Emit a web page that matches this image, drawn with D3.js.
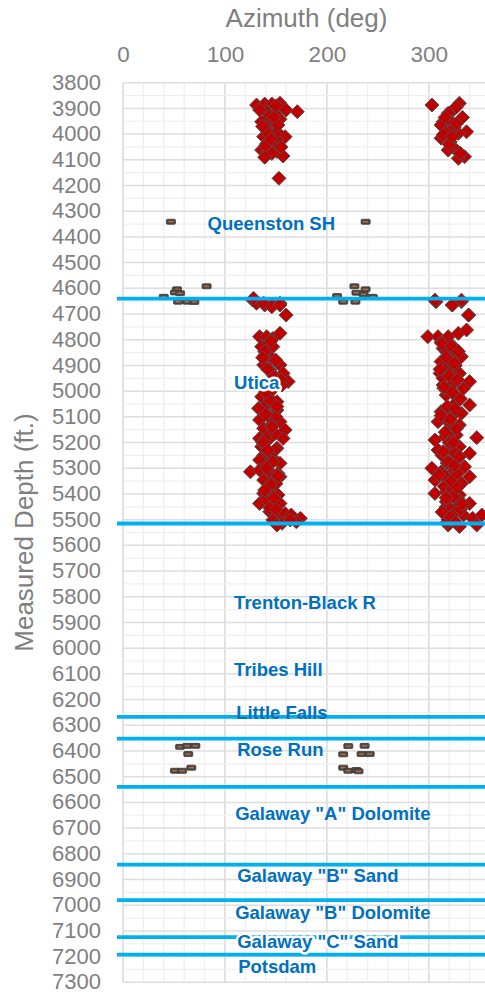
<!DOCTYPE html>
<html><head><meta charset="utf-8">
<script src="https://cdn.jsdelivr.net/npm/d3@7"></script>
<style>html,body{margin:0;padding:0;background:#fff;overflow:hidden}svg{display:block}</style>
</head><body>
<script>
// ---------- DATA ----------
const azimuthTicks = [0, 100, 200, 300];
const depthTicks = [3800,3900,4000,4100,4200,4300,4400,4500,4600,4700,4800,4900,5000,5100,5200,5300,5400,5500,5600,5700,5800,5900,6000,6100,6200,6300,6400,6500,6600,6700,6800,6900,7000,7100,7200,7300];

// Fracture azimuths (red diamonds): azimuth deg / measured depth ft
const fractureAz = [131,139,146,154,160,171,141,136,146,154,138,146,159,151,136,142,151,157,153,134,149,141,151,141,147,146,
 144,137,152,140,148,143,139,155,145,150,
 303,330,324,319,314,312,322,337,329,317,312,321,325,335,329,314,319,
 327,333,316,325,320,331,323,327,
 127,131,139,146,154,160,307,323,332,339,
 128,138,146,154,134,141,147,154,136,147,139,146,138,154,144,157,162,156,136,144,151,141,
 133,151,134,154,138,147,159,134,144,157,136,151,138,147,134,154,125,134,144,152,138,146,154,138,147,152,134,146,154,144,151,159,165,174,156,170,164,147,151,
 143,140,148,145,142,150,137,149,141,146,140,150,143,147,
 145,139,150,142,148,137,144,151,140,146,149,138,143,147,141,152,145,139,148,144,150,142,146,140,155,137,
 306,323,332,339,299,309,319,329,337,314,324,312,322,332,311,321,330,340,314,324,334,317,327,340,312,322,332,309,319,330,306,316,327,347,309,321,330,340,303,312,324,335,306,317,332,340,306,317,330,317,329,340,322,334,343,352,319,330,347,324,
 318,326,314,322,328,316,324,320,313,327,318,325,315,323,329,317,321,326,312,319,327,320,316,324,331,318,322,315,328,320,325,319,
 313,322,329,317,325,311,320,328,315,323,331,318,326,312,321,327,316,324,314,330,319,325,310,322,328,317,333,313,321,326];
const fractureDepth = [3887,3883,3883,3880,3906,3913,3913,3952,3952,3942,4010,3997,4010,4023,4062,4068,4068,4085,4172,3906,3919,3984,3991,4036,4042,4075,
 3930,3970,3965,4045,3935,4000,4090,4050,4020,3890,
 3887,3880,3906,3919,3952,3965,3952,3991,3997,3991,4016,4030,4055,4088,4094,4003,4062,
 3895,3935,3935,3975,4040,4075,4010,3960,
 4645,4658,4665,4665,4658,4704,4652,4665,4652,4704,
 4639,4658,4672,4665,4788,4788,4795,4775,4827,4827,4860,4872,4898,4898,4918,4931,4963,4976,5022,5028,5041,5054,
 5067,5074,5112,5119,5145,5158,5151,5184,5184,5184,5216,5222,5249,5261,5268,5281,5314,5307,5314,5320,5346,5352,5333,5398,5391,5404,5437,5443,5437,5469,5482,5476,5482,5495,5514,5508,5501,5501,5521,
 4810,4850,4940,5000,5095,5100,5200,5230,5290,5370,5420,5360,5170,5050,
 4805,4845,4880,4915,4945,4990,5035,5060,5090,5130,5165,5200,5240,5275,5300,5330,5365,5385,5415,5455,5460,5230,5140,5005,4955,4870,
 4646,4665,4646,4704,4788,4788,4788,4775,4762,4834,4827,4885,4866,4866,4931,4918,4931,4963,4976,4970,4989,5015,5022,5054,5080,5074,5086,5119,5119,5132,5190,5177,5171,5181,5229,5222,5216,5242,5300,5314,5294,5294,5346,5339,5359,5333,5398,5391,5404,5450,5443,5437,5482,5482,5495,5482,5521,5527,5521,5501,
 4850,4900,4950,5000,5040,5100,5150,5160,5250,5260,5280,5310,5370,5380,5420,5430,5460,5470,4810,4905,5045,5200,5330,5410,5460,5510,5100,4990,5320,4880,5240,5500,
 4815,4825,4845,4870,4890,4915,4940,4955,4985,5005,5030,5060,5070,5095,5110,5145,5160,5200,5235,5255,5275,5290,5325,5350,5375,5415,5440,5470,5490,5510];

// Second data series (dark dash markers): azimuth deg / depth ft
const dashAz = [47,238,82,53,51,56,40,54,63,70,227,238,229,236,210,245,216,228,
 56,63,71,64,51,58,67,221,237,216,234,242,216,221,229,231];
const dashDepth = [4341,4341,4592,4604,4616,4619,4633,4652,4652,4653,4592,4604,4617,4623,4630,4633,4652,4652,
 6384,6380,6380,6412,6477,6477,6465,6381,6380,6413,6412,6412,6465,6477,6474,6479];

// Formation tops (blue lines), ft
const formationTops = [4640, 5515, 6267, 6352, 6540, 6842, 6980, 7124, 7192];

// Formation labels
const formationNames = ["Queenston SH","Utica","Trenton-Black R","Tribes Hill","Little Falls","Rose Run",
 "Galaway \"A\" Dolomite","Galaway \"B\" Sand","Galaway \"B\" Dolomite","Galaway \"C\" Sand","Potsdam"];
const formationLabelDepth = [4346,4965,5824,6085,6252,6396,6645,6886,7027,7143,7240];
const formationLabelAz = [83,109,109,109,111,112,110,112,110,112,113];
const formationHalo = [false,true,false,false,false,false,false,false,false,true,false];

// ---------- CHART ----------
const W = 485, H = 994;
const svg = d3.select("body").append("svg").attr("width", W).attr("height", H);
const FONT = "'Liberation Sans', Arial, sans-serif";

const x = d3.scaleLinear().domain([0, 360]).range([123, 490]);
const y = d3.scaleLinear().domain([3800, 7300]).range([82.7, 982.3]);

// grid
const g = svg.append("g");
g.selectAll(".vmin").data(d3.range(0, 361, 20)).join("line")
  .attr("x1", d => x(d)).attr("x2", d => x(d)).attr("y1", y(3800)).attr("y2", y(7300))
  .attr("stroke", d => d % 100 === 0 ? "#d9d9d9" : "#efefef").attr("stroke-width", d => d % 100 === 0 ? 1.5 : 1.2);
g.selectAll(".hmin").data(d3.range(3800, 7301, 50)).join("line")
  .attr("x1", x(0)).attr("x2", x(360)).attr("y1", d => y(d)).attr("y2", d => y(d))
  .attr("stroke", d => d % 100 === 0 ? "#dedede" : "#efefef").attr("stroke-width", d => d % 100 === 0 ? 1.5 : 1.2);

// axes
const topAxis = d3.axisTop(x).tickValues(azimuthTicks).tickSize(0).tickPadding(0);
svg.append("g").attr("transform", "translate(0,62)").call(topAxis)
  .call(s => s.select(".domain").remove())
  .selectAll("text").attr("fill", "#7f7f7f").style("font", `22.5px ${FONT}`);
const leftAxis = d3.axisLeft(y).tickValues(depthTicks).tickFormat(d3.format("d")).tickSize(0).tickPadding(0);
svg.append("g").attr("transform", "translate(101,0)").call(leftAxis)
  .call(s => s.select(".domain").remove())
  .selectAll("text").attr("fill", "#7f7f7f").attr("dy", "0.3em").style("font", `22px ${FONT}`);

svg.append("text").attr("x", (x(0) + x(360)) / 2).attr("y", 27).attr("text-anchor", "middle")
  .attr("fill", "#7f7f7f").style("font", `26px ${FONT}`).text("Azimuth (deg)");
svg.append("text").attr("transform", `translate(33,${(y(3800) + y(7300)) / 2}) rotate(-90)`)
  .attr("text-anchor", "middle").attr("fill", "#7f7f7f").style("font", `26px ${FONT}`).text("Measured Depth (ft.)");

// dash markers
const dashes = svg.append("g").selectAll("g").data(dashAz.map((a, i) => [a, dashDepth[i]])).join("g")
  .attr("transform", d => `translate(${x(d[0])},${y(d[1])})`);
dashes.append("rect").attr("x", -4.5).attr("y", -2.5).attr("width", 9).attr("height", 5).attr("rx", 1)
  .attr("fill", "#4a4a4a").attr("stroke", "#3a3a3a").attr("stroke-width", 0.8);
dashes.append("line").attr("x1", -2.5).attr("x2", 2.5).attr("y1", 0).attr("y2", 0)
  .attr("stroke", "#d9691f").attr("stroke-width", 1.3);

// diamonds
const diamond = "M0,-7L7,0L0,7L-7,0Z";
svg.append("g").selectAll("path").data(fractureAz.map((a, i) => [a, fractureDepth[i]])).join("path")
  .attr("d", diamond).attr("transform", d => `translate(${x(d[0])},${y(d[1])})`)
  .attr("fill", "#c00000").attr("stroke", "#505050").attr("stroke-width", 1);

// formation lines
svg.append("g").selectAll("line").data(formationTops).join("line")
  .attr("x1", x(0) - 6).attr("x2", W).attr("y1", d => y(d)).attr("y2", d => y(d))
  .attr("stroke", "#00b0f0").attr("stroke-width", 3.8);

// labels
svg.append("g").selectAll("text").data(formationNames).join("text")
  .attr("x", (d, i) => x(formationLabelAz[i])).attr("y", (d, i) => y(formationLabelDepth[i]))
  .attr("dy", "0.35em").attr("fill", "#0070c0").style("font", `bold 18.5px ${FONT}`)
  .attr("stroke", (d, i) => formationHalo[i] ? "#ffffff" : "none").attr("stroke-width", 5)
  .attr("stroke-linejoin", "round").attr("paint-order", "stroke")
  .text(d => d);
</script>
</body></html>
